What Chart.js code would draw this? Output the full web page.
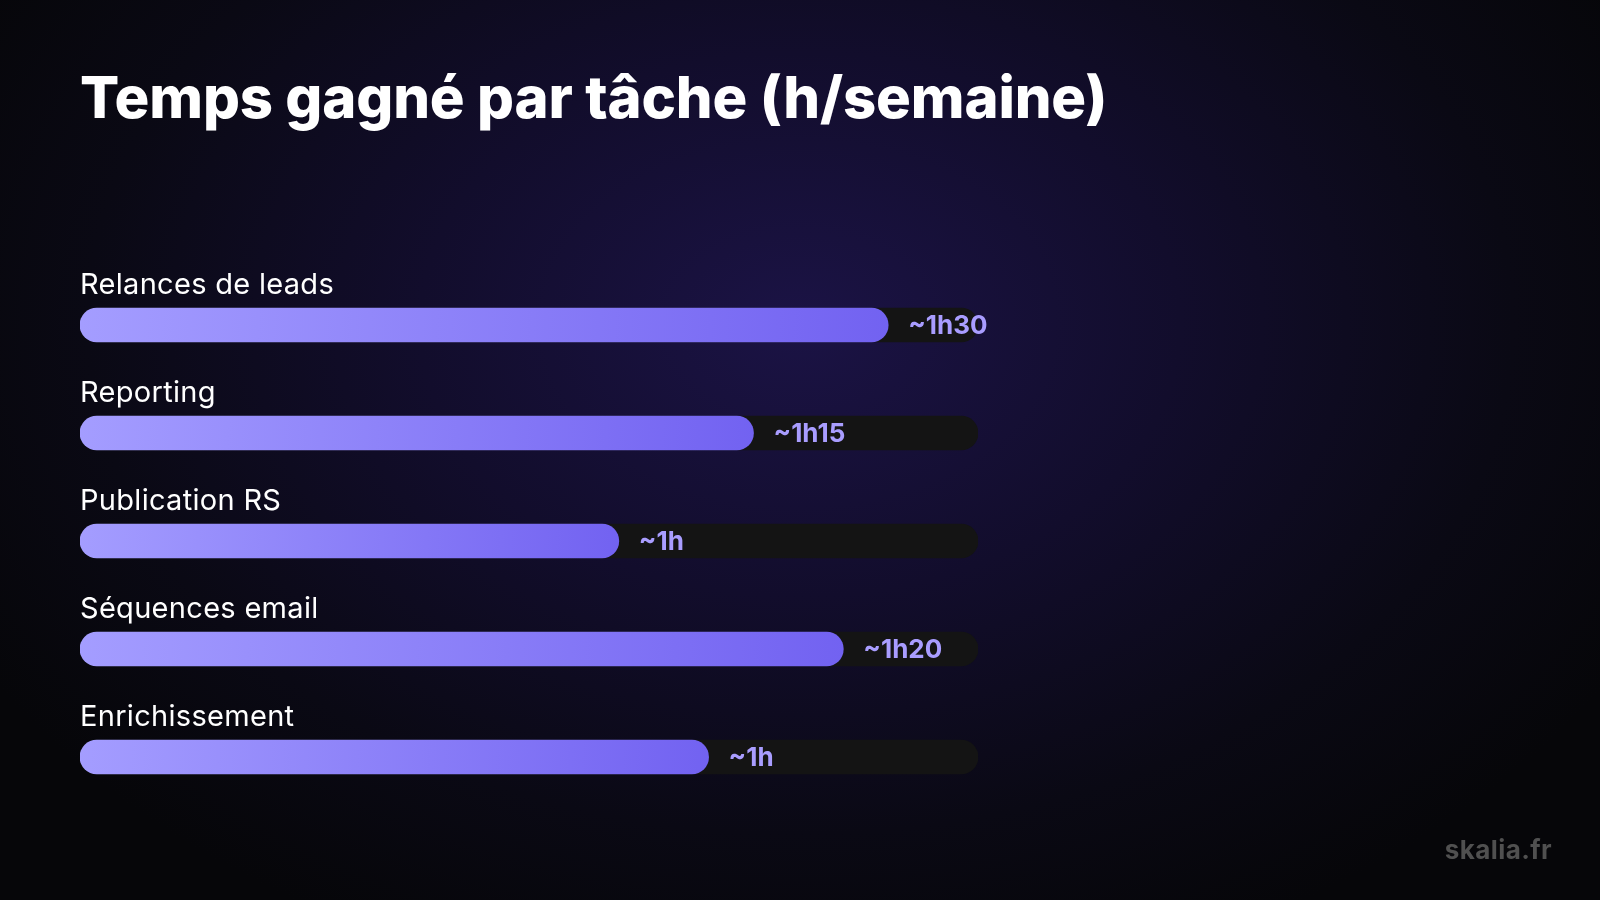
<!DOCTYPE html>
<html lang="fr">
<head>
<meta charset="utf-8">
<title>Temps gagné par tâche</title>
<script src="https://cdn.jsdelivr.net/npm/chart.js@4.4.1/dist/chart.umd.min.js"></script>
<style>
  html, body { margin: 0; padding: 0; }
  body {
    width: 1600px; height: 900px; overflow: hidden; position: relative;
    background: radial-gradient(ellipse 950px 680px at 50% 36%, #1b1345 0%, #120d2c 40%, #0a0914 75%, #060609 100%);
    font-family: Inter, "Noto Sans", sans-serif;
  }
  h1 {
    position: absolute; left: 80px; top: 62px; margin: 0;
    color: #fff; font-size: 58px; font-weight: 800; letter-spacing: -0.15px;
  }
  .marque {
    position: absolute; right: 48px; top: 834px;
    color: #505050; font-size: 26px; font-weight: 700; letter-spacing: 0.4px;
  }
  #wrap { position: absolute; left: 0; top: 0; width: 1600px; height: 900px; }
</style>
</head>
<body>
<h1>Temps gagné par tâche (h/semaine)</h1>
<div id="wrap"><canvas id="graf"></canvas></div>
<div class="marque">skalia.fr</div>
<script>
// données
const taches = ['Relances de leads', 'Reporting', 'Publication RS', 'Séquences email', 'Enrichissement'];
const pourcentages = [90, 75, 60, 85, 70]; // longueur de la barre en % de la piste
const etiquettes = ['~1h30', '~1h15', '~1h', '~1h20', '~1h'];
const piste = [100, 100, 100, 100, 100];

const epaisseur = 34;

// dégradé violet de chaque barre
function degrade(context) {
  const chart = context.chart;
  const area = chart.chartArea;
  if (!area) return '#8b7dff';
  const x = chart.scales.x, y = chart.scales.y;
  const x0 = x.getPixelForValue(0);
  const x1 = x.getPixelForValue(context.raw);
  const yc = y.getPixelForValue(context.dataIndex);
  const g = chart.ctx.createLinearGradient(x0, yc - epaisseur / 2, x1, yc + epaisseur / 2);
  g.addColorStop(0, '#a49dff');
  g.addColorStop(1, '#7262f1');
  return g;
}

// textes au-dessus des barres et valeurs à droite
const textes = {
  id: 'textes',
  afterDatasetsDraw(chart) {
    const ctx = chart.ctx;
    const x = chart.scales.x, y = chart.scales.y;
    ctx.save();
    taches.forEach((t, i) => {
      const yc = y.getPixelForValue(i);
      ctx.fillStyle = '#ffffff';
      ctx.font = '400 29px Inter, "Noto Sans", sans-serif';
      ctx.textAlign = 'left';
      ctx.textBaseline = 'alphabetic';
      ctx.letterSpacing = '0.3px';
      ctx.fillText(t, x.getPixelForValue(0), yc - epaisseur / 2 - 14);

      ctx.fillStyle = '#a99dff';
      ctx.font = '700 26px Inter, "Noto Sans", sans-serif';
      ctx.textBaseline = 'middle';
      ctx.letterSpacing = '0px';
      ctx.fillText(etiquettes[i], x.getPixelForValue(pourcentages[i]) + 20, yc + 1);
    });
    ctx.restore();
  }
};

const graf = new Chart(document.getElementById('graf'), {
  type: 'bar',
  data: {
    labels: taches,
    datasets: [
      {
        label: 'Temps gagné',
        data: pourcentages,
        backgroundColor: degrade,
        borderRadius: 17,
        borderSkipped: false,
        barThickness: epaisseur,
        grouped: false,
        order: 0
      },
      {
        label: 'piste',
        data: piste,
        backgroundColor: '#141414',
        borderRadius: 17,
        borderSkipped: false,
        barThickness: epaisseur,
        grouped: false,
        order: 1
      }
    ]
  },
  options: {
    indexAxis: 'y',
    responsive: true,
    maintainAspectRatio: false,
    animation: false,
    layout: { padding: { left: 80, right: 622, top: 271, bottom: 89 } },
    scales: {
      x: { min: 0, max: 100, display: false },
      y: { display: false, offset: true }
    },
    plugins: {
      legend: { display: false },
      tooltip: { enabled: false }
    }
  },
  plugins: [textes]
});
</script>
</body>
</html>
